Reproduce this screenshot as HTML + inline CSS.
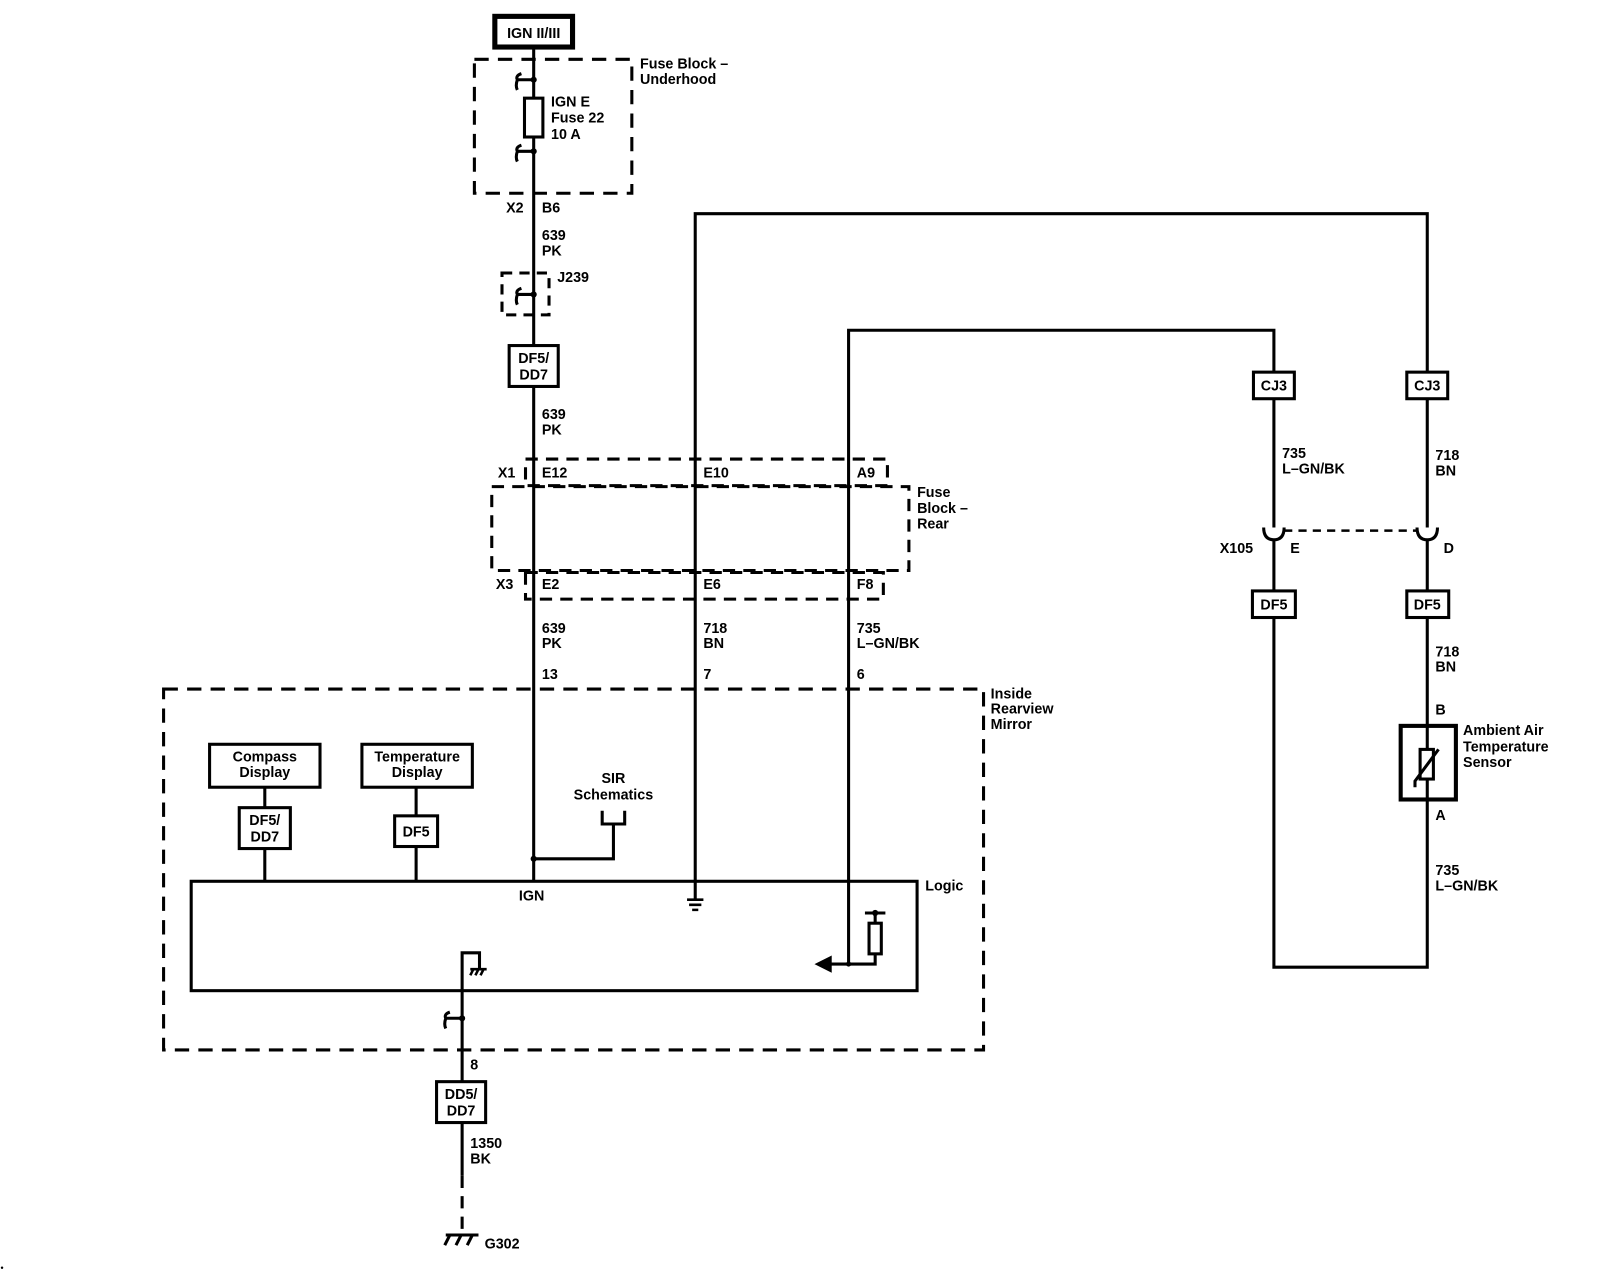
<!DOCTYPE html>
<html><head><meta charset="utf-8"><style>
html,body{margin:0;padding:0;background:#fff;}
svg{display:block;}
text{font-family:"Liberation Sans",Arial,sans-serif;font-size:14px;font-weight:bold;fill:#000;}
</style></head><body>
<svg width="1598" height="1280" viewBox="0 0 1563 1252" preserveAspectRatio="none" xmlns="http://www.w3.org/2000/svg">
<g fill="none" stroke="#000" stroke-width="3">
<!-- IGN box -->
<rect x="484" y="16" width="76" height="30" stroke-width="5"/>
<!-- fuse block underhood -->
<rect x="464" y="58" width="154" height="131" stroke-dasharray="14,9"/>
<!-- main wire -->
<line x1="522" y1="48" x2="522" y2="862"/>
<rect x="513" y="96" width="18" height="38" fill="#fff"/>
<path d="M522 78 H506 M510 72 Q504 74 506 78 Q504 84 506 88"/>
<path d="M522 148 H506 M510 142 Q504 144 506 148 Q504 154 506 158"/>
<!-- J239 -->
<rect x="491" y="267" width="46" height="41" stroke-dasharray="10,7"/>
<path d="M522 288 H506 M510 282 Q504 284 506 288 Q504 294 506 298"/>
<rect x="498" y="338" width="48" height="40" fill="#fff"/>
<!-- fuse block rear -->
<rect x="514" y="449" width="354" height="26" stroke-dasharray="12,8"/>
<rect x="481" y="476" width="408" height="82" stroke-dasharray="12,8"/>
<rect x="514" y="560" width="350" height="26" stroke-dasharray="12,8"/>
<!-- wires -->
<path d="M680 880 V209 H1396 V946 H1246 V323 H830 V943 H812"/>
<path d="M812 937 L800 943 L812 949 Z" fill="#000"/>
<!-- resistor -->
<path d="M830 943 H856 V933 M856 903 V893 M846 893 H866"/>
<rect x="850" y="903" width="12" height="30" fill="#fff"/>
<!-- ground at 680 -->
<path d="M672 880 H688 M674 885 H686 M677 890 H683" stroke-width="2.5"/>
<!-- CJ3 / DF5 boxes right -->
<rect x="1226" y="364" width="40" height="26" fill="#fff"/>
<rect x="1376" y="364" width="40" height="26" fill="#fff"/>
<rect x="1225" y="578" width="42" height="26" fill="#fff"/>
<rect x="1376" y="578" width="41" height="26" fill="#fff"/>
<!-- X105 -->
<line x1="1256" y1="519" x2="1386" y2="519" stroke-dasharray="8,6" stroke-width="2.5"/>
<path d="M1236 516 Q1236 528 1246 528 Q1256 528 1256 516" fill="#fff"/>
<path d="M1386 516 Q1386 528 1396 528 Q1406 528 1406 516" fill="#fff"/>
<!-- sensor -->
<rect x="1370" y="710" width="54" height="72" fill="#fff" stroke-width="4"/>
<line x1="1396" y1="710" x2="1396" y2="782"/>
<rect x="1389" y="733" width="13" height="29" fill="#fff"/>
<path d="M1384 770 V764 L1407 733" stroke-width="3"/>
<!-- inside rearview mirror -->
<rect x="160" y="674" width="802" height="353" stroke-dasharray="14,9"/>
<rect x="205" y="728" width="108" height="42"/>
<rect x="354" y="728" width="108" height="42"/>
<line x1="259" y1="770" x2="259" y2="862"/>
<line x1="407" y1="770" x2="407" y2="862"/>
<rect x="234" y="790" width="50" height="40" fill="#fff"/>
<rect x="386" y="798" width="42" height="30" fill="#fff"/>
<!-- SIR -->
<path d="M589 793 V806 H611 V793 M600 806 V840 H522"/>
<!-- logic -->
<rect x="187" y="862" width="710" height="107"/>
<!-- ground -->
<path d="M452 1150 V932 H469 V947"/>
<path d="M460 948 H476 M463 948 L460 954 M468 948 L465 954 M473 948 L470 954" stroke-width="2.5"/>
<path d="M452 996 H436 M440 990 Q434 992 436 996 Q434 1002 436 1006"/>
<rect x="427" y="1058" width="48" height="40" fill="#fff"/>
<line x1="452" y1="1150" x2="452" y2="1208" stroke-dasharray="12,8"/>
<path d="M436 1208 H468 M440 1208 L435 1218 M451 1208 L446 1218 M462 1208 L457 1218" stroke-width="3"/>
</g>
<g fill="#000">
<circle cx="522" cy="78" r="3"/><circle cx="522" cy="148" r="3"/><circle cx="522" cy="288" r="3"/>
<circle cx="522" cy="840" r="3"/><circle cx="452" cy="996" r="3"/><circle cx="856" cy="893" r="3"/>
<circle cx="830" cy="943" r="2.5"/><circle cx="2" cy="1240" r="1.2"/>
</g>
<text x="522" y="37" text-anchor="middle">IGN II/III</text>
<text x="626" y="67">Fuse Block –</text><text x="626" y="82">Underhood</text>
<text x="539" y="104">IGN E</text><text x="539" y="120">Fuse 22</text><text x="539" y="136">10 A</text>
<text x="495" y="208">X2</text><text x="530" y="208">B6</text>
<text x="530" y="235">639</text><text x="530" y="250">PK</text>
<text x="545" y="276">J239</text>
<text x="522" y="355" text-anchor="middle">DF5/</text><text x="522" y="371" text-anchor="middle">DD7</text>
<text x="530" y="410">639</text><text x="530" y="425">PK</text>
<text x="487" y="467">X1</text><text x="530" y="467">E12</text><text x="688" y="467">E10</text><text x="838" y="467">A9</text>
<text x="897" y="486">Fuse</text><text x="897" y="502">Block –</text><text x="897" y="517">Rear</text>
<text x="485" y="576">X3</text><text x="530" y="576">E2</text><text x="688" y="576">E6</text><text x="838" y="576">F8</text>
<text x="530" y="619">639</text><text x="530" y="634">PK</text>
<text x="688" y="619">718</text><text x="688" y="634">BN</text>
<text x="838" y="619">735</text><text x="838" y="634">L–GN/BK</text>
<text x="530" y="664">13</text><text x="688" y="664">7</text><text x="838" y="664">6</text>
<text x="969" y="683">Inside</text><text x="969" y="698">Rearview</text><text x="969" y="713">Mirror</text>
<text x="259" y="745" text-anchor="middle">Compass</text><text x="259" y="760" text-anchor="middle">Display</text>
<text x="408" y="745" text-anchor="middle">Temperature</text><text x="408" y="760" text-anchor="middle">Display</text>
<text x="259" y="807" text-anchor="middle">DF5/</text><text x="259" y="823" text-anchor="middle">DD7</text>
<text x="407" y="818" text-anchor="middle">DF5</text>
<text x="600" y="766" text-anchor="middle">SIR</text><text x="600" y="782" text-anchor="middle">Schematics</text>
<text x="520" y="881" text-anchor="middle">IGN</text>
<text x="905" y="871">Logic</text>
<text x="460" y="1046">8</text>
<text x="451" y="1075" text-anchor="middle">DD5/</text><text x="451" y="1091" text-anchor="middle">DD7</text>
<text x="460" y="1123">1350</text><text x="460" y="1138">BK</text>
<text x="474" y="1221">G302</text>
<text x="1246" y="382" text-anchor="middle">CJ3</text><text x="1396" y="382" text-anchor="middle">CJ3</text>
<text x="1254" y="448">735</text><text x="1254" y="463">L–GN/BK</text>
<text x="1404" y="450">718</text><text x="1404" y="465">BN</text>
<text x="1193" y="541">X105</text><text x="1262" y="541">E</text><text x="1412" y="541">D</text>
<text x="1246" y="596" text-anchor="middle">DF5</text><text x="1396" y="596" text-anchor="middle">DF5</text>
<text x="1404" y="642">718</text><text x="1404" y="657">BN</text>
<text x="1404" y="699">B</text>
<text x="1431" y="719">Ambient Air</text><text x="1431" y="735">Temperature</text><text x="1431" y="750">Sensor</text>
<text x="1404" y="802">A</text>
<text x="1404" y="856">735</text><text x="1404" y="871">L–GN/BK</text>
</svg>
</body></html>
